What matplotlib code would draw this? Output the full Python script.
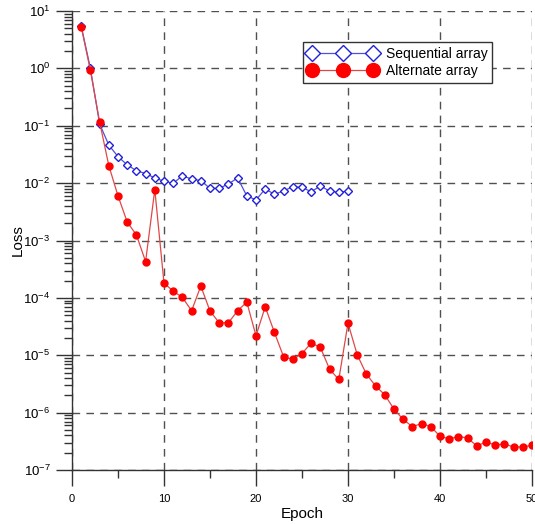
import numpy as np
import matplotlib
matplotlib.use("Agg")
import matplotlib.pyplot as plt
from matplotlib.ticker import LogLocator, MultipleLocator, NullFormatter

plt.rcParams['font.family'] = ['Liberation Sans', 'DejaVu Sans']
plt.rcParams['mathtext.fontset'] = 'custom'
plt.rcParams['mathtext.rm'] = 'Liberation Sans'
plt.rcParams['mathtext.it'] = 'Liberation Sans:italic'
plt.rcParams['axes.unicode_minus'] = False

# loss per epoch
epochs_seq = np.arange(1, 31)
loss_seq = [5.5, 1.0, 0.108, 0.046, 0.029, 0.0208, 0.0165, 0.0147, 0.0123, 0.0108,
            0.00995, 0.0134, 0.0118, 0.0111, 0.0081, 0.0081, 0.0097, 0.0123, 0.0060, 0.0051,
            0.0079, 0.0064, 0.0073, 0.0087, 0.0084, 0.0071, 0.0089, 0.0073, 0.0069, 0.0073]

epochs_alt = np.arange(1, 51)
loss_alt = [5.3, 0.92, 0.117, 0.0202, 0.0060, 0.0021, 0.00125, 0.00043, 0.0077, 1.81e-4,
            1.31e-4, 1.02e-4, 5.96e-5, 1.61e-4, 5.9e-5, 3.68e-5, 3.68e-5, 5.96e-5, 8.45e-5, 2.18e-5,
            7.0e-5, 2.5e-5, 9.4e-6, 8.5e-6, 1.07e-5, 1.64e-5, 1.37e-5, 5.7e-6, 3.78e-6, 3.63e-5,
            1.02e-5, 4.68e-6, 2.92e-6, 2.04e-6, 1.15e-6, 7.6e-7, 5.7e-7, 6.45e-7, 5.7e-7, 3.87e-7,
            3.48e-7, 3.83e-7, 3.62e-7, 2.62e-7, 3.08e-7, 2.73e-7, 2.84e-7, 2.52e-7, 2.52e-7, 2.7e-7]

fig = plt.figure(figsize=(5.35, 5.24), dpi=100)
ax = fig.add_axes([72/535, 1 - 470/524, 460/535, 459/524])

ax.plot(epochs_seq, loss_seq, color='#5050d4', lw=0.9, marker='D', ms=4,
        mfc='white', mec='#2020d8', mew=1.0, label='Sequential array', zorder=3)
ax.plot(epochs_alt, loss_alt, color='#e04848', lw=0.9, marker='o', ms=5,
        mfc='red', mec='red', label='Alternate array', zorder=4)

ax.set_yscale('log')
ax.set_xlim(0, 50)
ax.set_ylim(1e-7, 10)

ax.xaxis.set_major_locator(MultipleLocator(10))
ax.xaxis.set_minor_locator(MultipleLocator(5))
ax.yaxis.set_major_locator(LogLocator(base=10, numticks=20))
ax.yaxis.set_minor_locator(LogLocator(base=10, subs=np.arange(2, 10), numticks=20))
ax.yaxis.set_minor_formatter(NullFormatter())

for s in ['top', 'right']:
    ax.spines[s].set_visible(False)
for s in ['left', 'bottom']:
    ax.spines[s].set_color('#333333')
    ax.spines[s].set_linewidth(1.0)

ax.tick_params(which='major', direction='out', length=11.5, width=1.0, color='#333333')
ax.tick_params(which='minor', direction='out', length=6, width=1.0, color='#333333')
ax.tick_params(axis='x', which='major', labelsize=8, pad=6)
ax.tick_params(axis='y', which='major', labelsize=9.5, pad=4)

ax.grid(True, which='major', color='#505050', ls=(0, (5.5, 4.5)), lw=1.0)
ax.set_axisbelow(True)

ax.set_xlabel('Epoch', fontsize=11, labelpad=2)
ax.set_ylabel('Loss', fontsize=11)
ax.yaxis.set_label_coords(-0.103, 0.5)

leg = ax.legend(loc='upper left', bbox_to_anchor=(231/460, 1 - 31/459), numpoints=3,
                markerscale=2.0, handlelength=5.0, fontsize=10, fancybox=False,
                framealpha=1, edgecolor='#333333', borderpad=0.35, labelspacing=0.25,
                handletextpad=0.6, borderaxespad=0)
leg.get_frame().set_linewidth(1.0)

fig.savefig('out.png', dpi=100)
